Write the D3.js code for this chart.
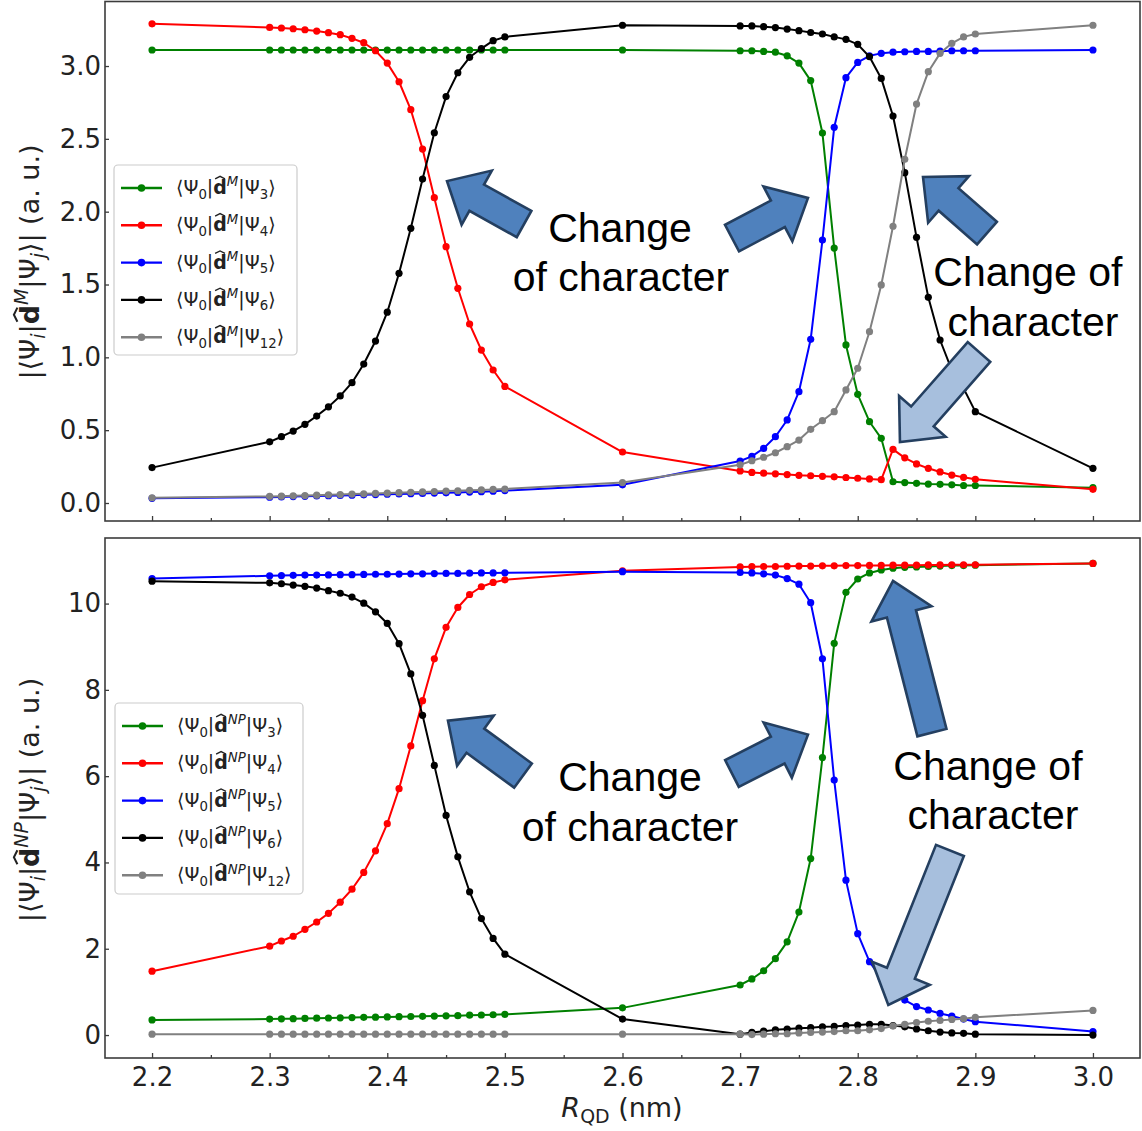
<!DOCTYPE html>
<html>
<head>
<meta charset="utf-8">
<script src="https://cdn.jsdelivr.net/npm/d3@7"></script>
<style>
  body { margin: 0; background: #fff; }
  svg { display: block; }
  .tick text { font-family: "DejaVu Sans", sans-serif; fill: #222; }
</style>
</head>
<body>
<svg id="chart" width="1142" height="1131"></svg>
<script>
// ---- data ----
const rQD = [2.20,
  2.30, 2.31, 2.32, 2.33, 2.34, 2.35, 2.36, 2.37, 2.38, 2.39, 2.40,
  2.41, 2.42, 2.43, 2.44, 2.45, 2.46, 2.47, 2.48, 2.49, 2.50,
  2.60,
  2.70, 2.71, 2.72, 2.73, 2.74, 2.75, 2.76, 2.77, 2.78, 2.79, 2.80,
  2.81, 2.82, 2.83, 2.84, 2.85, 2.86, 2.87, 2.88, 2.89, 2.90,
  3.00];

// top panel: |<Psi0|d^M|Psi_j>|
const mPsi3 = [3.11,
  3.11, 3.11, 3.11, 3.11, 3.11, 3.11, 3.11, 3.11, 3.11, 3.11, 3.11,
  3.11, 3.11, 3.11, 3.11, 3.11, 3.11, 3.11, 3.11, 3.11, 3.11,
  3.11,
  3.105, 3.105, 3.10, 3.095, 3.07, 3.02, 2.90, 2.54, 1.75, 1.085, 0.746,
  0.558, 0.444, 0.146, 0.14, 0.135, 0.13, 0.128, 0.125, 0.12, 0.12,
  0.105];
const mPsi4 = [3.29,
  3.265, 3.261, 3.256, 3.249, 3.240, 3.229, 3.215, 3.190, 3.160, 3.105, 3.020,
  2.892, 2.70, 2.43, 2.096, 1.76, 1.474, 1.229, 1.05, 0.913, 0.80,
  0.35,
  0.22, 0.21, 0.205, 0.20, 0.195, 0.19, 0.187, 0.183, 0.18, 0.175, 0.17,
  0.165, 0.16, 0.368, 0.31, 0.268, 0.238, 0.213, 0.192, 0.176, 0.163,
  0.094];
const mPsi5 = [0.032,
  0.040, 0.042, 0.044, 0.046, 0.048, 0.050, 0.052, 0.054, 0.056, 0.058, 0.060,
  0.062, 0.064, 0.066, 0.068, 0.070, 0.072, 0.075, 0.078, 0.081, 0.085,
  0.125,
  0.288, 0.32, 0.375, 0.455, 0.57, 0.764, 1.124, 1.805, 2.579, 2.92, 3.025,
  3.07, 3.087, 3.095, 3.098, 3.10, 3.10, 3.102, 3.105, 3.105, 3.105,
  3.11];
const mPsi6 = [0.243,
  0.42, 0.455, 0.494, 0.54, 0.597, 0.66, 0.735, 0.826, 0.954, 1.112, 1.31,
  1.577, 1.886, 2.224, 2.542, 2.79, 2.954, 3.06, 3.12, 3.174, 3.20,
  3.28,
  3.275, 3.275, 3.27, 3.264, 3.254, 3.243, 3.23, 3.22, 3.20, 3.183, 3.149,
  3.064, 2.915, 2.657, 2.268, 1.824, 1.412, 1.119, 0.913, 0.787, 0.627,
  0.238];
const mPsi12 = [0.036,
  0.045, 0.047, 0.049, 0.051, 0.054, 0.056, 0.058, 0.061, 0.063, 0.066, 0.068,
  0.071, 0.073, 0.076, 0.079, 0.082, 0.084, 0.087, 0.090, 0.093, 0.096,
  0.14,
  0.262, 0.29, 0.314, 0.345, 0.387, 0.432, 0.506, 0.565, 0.627, 0.776, 0.925,
  1.176, 1.497, 1.90, 2.36, 2.739, 2.961, 3.087, 3.156, 3.20, 3.22,
  3.28];

// bottom panel: |<Psi0|d^NP|Psi_j>|
const npPsi3 = [0.35,
  0.37, 0.375, 0.38, 0.385, 0.39, 0.395, 0.40, 0.405, 0.41, 0.415, 0.42,
  0.425, 0.43, 0.435, 0.44, 0.445, 0.45, 0.46, 0.465, 0.47, 0.48,
  0.63,
  1.16, 1.30, 1.49, 1.77, 2.16, 2.85, 4.09, 6.43, 9.08, 10.26, 10.57,
  10.71, 10.78, 10.82, 10.84, 10.85, 10.86, 10.87, 10.88, 10.88, 10.89,
  10.93];
const npPsi4 = [1.48,
  2.06, 2.18, 2.29, 2.45, 2.62, 2.82, 3.08, 3.38, 3.77, 4.27, 4.90,
  5.71, 6.70, 7.75, 8.72, 9.45, 9.91, 10.21, 10.39, 10.49, 10.55,
  10.76,
  10.85, 10.855, 10.86, 10.86, 10.865, 10.87, 10.87, 10.875, 10.875, 10.88, 10.88,
  10.885, 10.885, 10.89, 10.89, 10.89, 10.895, 10.895, 10.90, 10.90, 10.90,
  10.93];
const npPsi5 = [10.58,
  10.645, 10.65, 10.655, 10.66, 10.66, 10.665, 10.67, 10.67, 10.675, 10.68, 10.68,
  10.685, 10.69, 10.69, 10.695, 10.70, 10.70, 10.705, 10.71, 10.71, 10.715,
  10.74,
  10.72, 10.71, 10.69, 10.66, 10.58, 10.45, 10.02, 8.72, 5.91, 3.59, 2.35,
  1.70, 1.31, 1.03, 0.81, 0.66, 0.58, 0.50, 0.44, 0.37, 0.31,
  0.08];
const npPsi6 = [10.52,
  10.48, 10.46, 10.43, 10.40, 10.36, 10.30, 10.24, 10.15, 10.01, 9.81, 9.54,
  9.07, 8.37, 7.41, 6.25, 5.09, 4.13, 3.32, 2.70, 2.24, 1.875,
  0.37,
  0.02, 0.06, 0.09, 0.12, 0.14, 0.16, 0.17, 0.19, 0.20, 0.22, 0.23,
  0.25, 0.25, 0.22, 0.19, 0.14, 0.10, 0.07, 0.05, 0.04, 0.02,
  0.0];
const npPsi12 = [0.02,
  0.02, 0.02, 0.02, 0.02, 0.02, 0.02, 0.02, 0.02, 0.02, 0.02, 0.02,
  0.02, 0.02, 0.02, 0.02, 0.02, 0.02, 0.02, 0.02, 0.02, 0.02,
  0.02,
  0.02, 0.01, 0.02, 0.03, 0.03, 0.05, 0.06, 0.07, 0.08, 0.10, 0.10,
  0.12, 0.15, 0.21, 0.25, 0.29, 0.32, 0.34, 0.36, 0.38, 0.41,
  0.57];

const finalStates = ["3", "4", "5", "6", "12"];
const seriesColors = ["#008000", "#ff0000", "#0000ff", "#000000", "#808080"];

const xTicks = [2.2, 2.3, 2.4, 2.5, 2.6, 2.7, 2.8, 2.9, 3.0];
const xMinorTicks = [2.25, 2.35, 2.45, 2.55, 2.65, 2.75, 2.85, 2.95];
const yTicksTop = [0, 0.5, 1.0, 1.5, 2.0, 2.5, 3.0];
const yTicksBottom = [0, 2, 4, 6, 8, 10];

// annotation arrows: tail -> tip, in data units of each panel
const arrowsTop = [
  {tail: [2.5163, 1.915], tip: [2.4508, 2.210], light: false},
  {tail: [2.6931, 1.819], tip: [2.7577, 2.094], light: false},
  {tail: [2.9099, 1.853], tip: [2.8555, 2.238], light: false},
  {tail: [2.9031, 1.037], tip: [2.8359, 0.419], light: true}
];
const arrowsBottom = [
  {tail: [2.5154, 6.014], tip: [2.4516, 7.287], light: false},
  {tail: [2.6931, 6.061], tip: [2.7577, 6.963], light: false},
  {tail: [2.8631, 7.009], tip: [2.8300, 10.525], light: false},
  {tail: [2.8784, 4.279], tip: [2.8260, 0.700], light: true}
];
const notesTop = [
  {text: "Change", at: [2.5979, 1.792]},
  {text: "of character", at: [2.5987, 1.455]},
  {text: "Change of", at: [2.9447, 1.490]},
  {text: "character", at: [2.9490, 1.146]}
];
const notesBottom = [
  {text: "Change", at: [2.6064, 5.667]},
  {text: "of character", at: [2.6064, 4.488]},
  {text: "Change of", at: [2.9107, 5.922]},
  {text: "character", at: [2.9150, 4.765]}
];

// ---- drawing ----
const svg = d3.select("#chart");
svg.append("rect").attr("width", 1142).attr("height", 1131).attr("fill", "#fff");

const left = 105, right = 1140;
const xScale = d3.scaleLinear().domain([2.16, 3.04]).range([left, right]);

// writes mathtext-like pieces into a <text> held by group g;
// a piece with hat:true gets a small circumflex stroke above it
function addMath(g, textSel, parts, fs) {
  let cur = 0, nChars = 0;
  const hats = [];
  parts.forEach(p => {
    const target = p.sub ? 0.24 * fs : p.sup ? -0.40 * fs : 0;
    textSel.append("tspan")
      .attr("dy", target - cur)
      .style("font-size", (p.sub || p.sup) ? (0.7 * fs) + "px" : fs + "px")
      .style("font-style", p.it ? "italic" : "normal")
      .style("font-weight", p.bold ? "bold" : "normal")
      .text(p.t);
    if (p.hat) hats.push(nChars);
    nChars += p.t.length;
    cur = target;
  });
  const node = textSel.node();
  hats.forEach(idx => {
    const a = node.getStartPositionOfChar(idx);
    const b = node.getEndPositionOfChar(idx);
    const cx = (a.x + b.x) / 2, base = a.y - 0.80 * fs;
    const hw = 0.26 * fs, hh = 0.13 * fs;
    g.append("path")
      .attr("d", `M${cx - hw},${base} L${cx},${base - hh} L${cx + hw},${base}`)
      .attr("fill", "none").attr("stroke", "#222")
      .attr("stroke-width", 0.075 * fs).attr("stroke-linejoin", "miter");
  });
}

function arrowPoints(T, S, w, hw, hl) {
  const dx = T[0] - S[0], dy = T[1] - S[1];
  const len = Math.hypot(dx, dy);
  const ux = dx / len, uy = dy / len;
  const nx = -uy, ny = ux;
  const H = [T[0] - ux * hl, T[1] - uy * hl];
  const p = (b, k) => [b[0] + nx * k, b[1] + ny * k];
  return [p(S, w / 2), p(H, w / 2), p(H, hw / 2), T, p(H, -hw / 2), p(H, -w / 2), p(S, -w / 2)];
}

function drawPanel(cfg) {
  const vis = {};
  vis.yScale = d3.scaleLinear().domain(cfg.yDomain).range([cfg.bottom, cfg.top]);
  vis.g = svg.append("g");

  // frame
  vis.g.append("rect")
    .attr("x", left).attr("y", cfg.top)
    .attr("width", right - left).attr("height", cfg.bottom - cfg.top)
    .attr("fill", "none").attr("stroke", "#3c3c3c").attr("stroke-width", 1.6);

  // axes, ticks pointing inward
  const xAxis = d3.axisBottom(xScale).tickValues(xTicks).tickSize(-5).tickPadding(10)
    .tickFormat(cfg.xLabels ? d3.format(".1f") : "");
  const xMinor = d3.axisBottom(xScale).tickValues(xMinorTicks).tickSize(-3).tickFormat("");
  const yAxis = d3.axisLeft(vis.yScale).tickValues(cfg.yTicks).tickSize(-4).tickPadding(4)
    .tickFormat(cfg.yFormat);

  [xAxis, xMinor].forEach(ax => {
    vis.g.append("g").attr("transform", `translate(0,${cfg.bottom})`).call(ax)
      .call(g => g.select(".domain").remove())
      .call(g => g.selectAll(".tick line").attr("stroke", "#3c3c3c").attr("stroke-width", 1.3))
      .call(g => g.selectAll(".tick text").style("font-size", "26px"));
  });
  vis.g.append("g").attr("transform", `translate(${left},0)`).call(yAxis)
    .call(g => g.select(".domain").remove())
    .call(g => g.selectAll(".tick line").attr("stroke", "#3c3c3c").attr("stroke-width", 1.3))
    .call(g => g.selectAll(".tick text").style("font-size", "26px"));

  // y label
  const ylg = vis.g.append("g")
    .attr("transform", `translate(${cfg.yLabelX},${cfg.yLabelY}) rotate(-90)`);
  const yl = ylg.append("text")
    .attr("text-anchor", "middle")
    .style("font-family", "DejaVu Sans, sans-serif").attr("fill", "#222");
  addMath(ylg, yl, [
    {t: "|\u27E8\u03A8"}, {t: "i", sub: true, it: true}, {t: "|"},
    {t: "d", bold: true, hat: true}, {t: cfg.op, sup: true, it: true},
    {t: "|\u03A8"}, {t: "j", sub: true, it: true}, {t: "\u27E9| (a. u.)"}
  ], 27);

  // lines + markers
  const line = d3.line().x(d => xScale(d[0])).y(d => vis.yScale(d[1]));
  cfg.series.forEach((vals, i) => {
    const pts = rQD.map((x, k) => [x, vals[k]]);
    vis.g.append("path").datum(pts)
      .attr("d", line).attr("fill", "none")
      .attr("stroke", seriesColors[i]).attr("stroke-width", 2)
      .attr("stroke-linejoin", "round");
    vis.g.append("g").selectAll("circle").data(pts).join("circle")
      .attr("cx", d => xScale(d[0])).attr("cy", d => vis.yScale(d[1]))
      .attr("r", 3.6).attr("fill", seriesColors[i]);
  });

  // legend
  const lg = vis.g.append("g");
  lg.append("rect")
    .attr("x", cfg.legend.x).attr("y", cfg.legend.y)
    .attr("width", cfg.legend.w).attr("height", cfg.legend.h)
    .attr("rx", 4).attr("fill", "#fff").attr("fill-opacity", 0.85)
    .attr("stroke", "#cccccc").attr("stroke-width", 1.2);
  finalStates.forEach((s, i) => {
    const cy = cfg.legend.y + 23 + i * 37.3;
    const lx = cfg.legend.x + 7;
    lg.append("line").attr("x1", lx).attr("x2", lx + 41).attr("y1", cy).attr("y2", cy)
      .attr("stroke", seriesColors[i]).attr("stroke-width", 2.4);
    lg.append("circle").attr("cx", lx + 20.5).attr("cy", cy).attr("r", 3.8)
      .attr("fill", seriesColors[i]);
    const t = lg.append("text").attr("x", lx + 55).attr("y", cy + 6)
      .style("font-family", "DejaVu Sans, sans-serif").attr("fill", "#222");
    addMath(lg, t, [
      {t: "\u27E8\u03A8"}, {t: "0", sub: true}, {t: "|"},
      {t: "d", bold: true, hat: true}, {t: cfg.op, sup: true, it: true},
      {t: "|\u03A8"}, {t: s, sub: true}, {t: "\u27E9"}
    ], 19);
  });

  // arrows
  cfg.arrows.forEach(a => {
    const T = [xScale(a.tip[0]), vis.yScale(a.tip[1])];
    const S = [xScale(a.tail[0]), vis.yScale(a.tail[1])];
    vis.g.append("polygon")
      .attr("points", arrowPoints(T, S, 30, 62, 34).map(p => p.join(",")).join(" "))
      .attr("fill", a.light ? "#a7bfdd" : "#4f81bd")
      .attr("stroke", "#243f60").attr("stroke-width", 2.6)
      .attr("stroke-linejoin", "miter");
  });

  // annotation texts
  cfg.notes.forEach(n => {
    vis.g.append("text")
      .attr("x", xScale(n.at[0])).attr("y", vis.yScale(n.at[1]))
      .attr("text-anchor", "middle")
      .style("font-family", "Liberation Sans, Arial, sans-serif")
      .style("font-size", "41px").attr("fill", "#000")
      .text(n.text);
  });
  return vis;
}

drawPanel({
  top: 1.5, bottom: 521, yDomain: [-0.1236, 3.443],
  yTicks: yTicksTop, yFormat: d3.format(".1f"), xLabels: false,
  op: "M", yLabelX: 39, yLabelY: 262,
  series: [mPsi3, mPsi4, mPsi5, mPsi6, mPsi12],
  legend: {x: 114, y: 165, w: 183, h: 190},
  arrows: arrowsTop, notes: notesTop
});

drawPanel({
  top: 538, bottom: 1058, yDomain: [-0.532, 11.52],
  yTicks: yTicksBottom, yFormat: d3.format("d"), xLabels: true,
  op: "NP", yLabelX: 39, yLabelY: 800,
  series: [npPsi3, npPsi4, npPsi5, npPsi6, npPsi12],
  legend: {x: 115, y: 703, w: 188, h: 191},
  arrows: arrowsBottom, notes: notesBottom
});

// x label
const xlg = svg.append("g");
const xl = xlg.append("text")
  .attr("x", 622).attr("y", 1117).attr("text-anchor", "middle")
  .style("font-family", "DejaVu Sans, sans-serif").attr("fill", "#222");
addMath(xlg, xl, [{t: "R", it: true}, {t: "QD", sub: true}, {t: " (nm)"}], 27);
</script>
</body>
</html>
